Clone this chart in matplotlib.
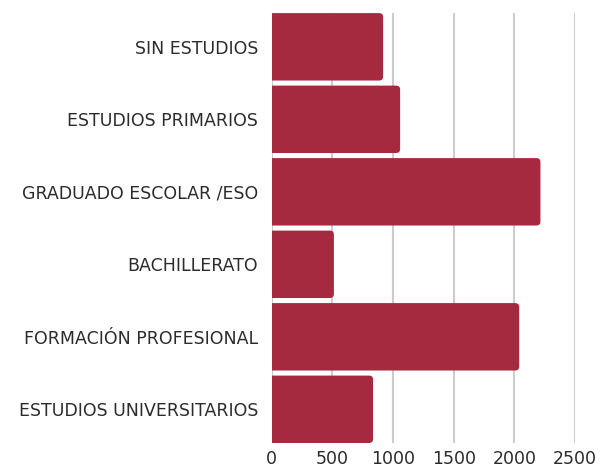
import matplotlib.pyplot as plt
from matplotlib.patches import FancyBboxPatch

categorias = ["SIN ESTUDIOS", "ESTUDIOS PRIMARIOS", "GRADUADO ESCOLAR /ESO",
              "BACHILLERATO", "FORMACIÓN PROFESIONAL", "ESTUDIOS UNIVERSITARIOS"]
valores = [918, 1058, 2215, 512, 2040, 835]
ticks_x = [0, 500, 1000, 1500, 2000, 2500]

color_barra = "#A52A40"
alto = 0.93

fig = plt.figure(figsize=(6.04, 4.68), dpi=100)
ax = fig.add_axes([0.450, 0.0534, 0.502, 0.9186])

ax.set_xlim(0, 2500)
ax.set_ylim(-alto / 2, len(categorias) - 1 + alto / 2)

# radio de redondeo en unidades de datos (aprox 4 px)
px_x = 2500 / (0.502 * 604)
px_y = (len(categorias) - 1 + alto) / (0.9186 * 468)
radio = 4 * px_x
aspecto = px_y / px_x

posiciones = list(range(len(categorias)))[::-1]
for pos, v in zip(posiciones, valores):
    caja = FancyBboxPatch((-radio * 2, pos - alto / 2), v + radio * 2, alto,
                          boxstyle=f"round,pad=0,rounding_size={radio}",
                          mutation_aspect=aspecto, facecolor=color_barra,
                          edgecolor="none", zorder=3, clip_on=True)
    ax.add_patch(caja)

ax.set_yticks(posiciones)
ax.set_yticklabels(categorias)
ax.set_xticks(ticks_x)
ax.tick_params(axis="both", length=0, labelsize=12.5, labelcolor="#2b2b2b",
               pad=10)
ax.tick_params(axis="x", pad=5)
for lab in ax.get_xticklabels() + ax.get_yticklabels():
    lab.set_family(["DejaVu Sans"])

ax.grid(axis="x", color="#cccccc", linewidth=1.5, zorder=0)
ax.set_axisbelow(True)
for s in ax.spines.values():
    s.set_visible(False)

fig.savefig("out.png", dpi=100)
